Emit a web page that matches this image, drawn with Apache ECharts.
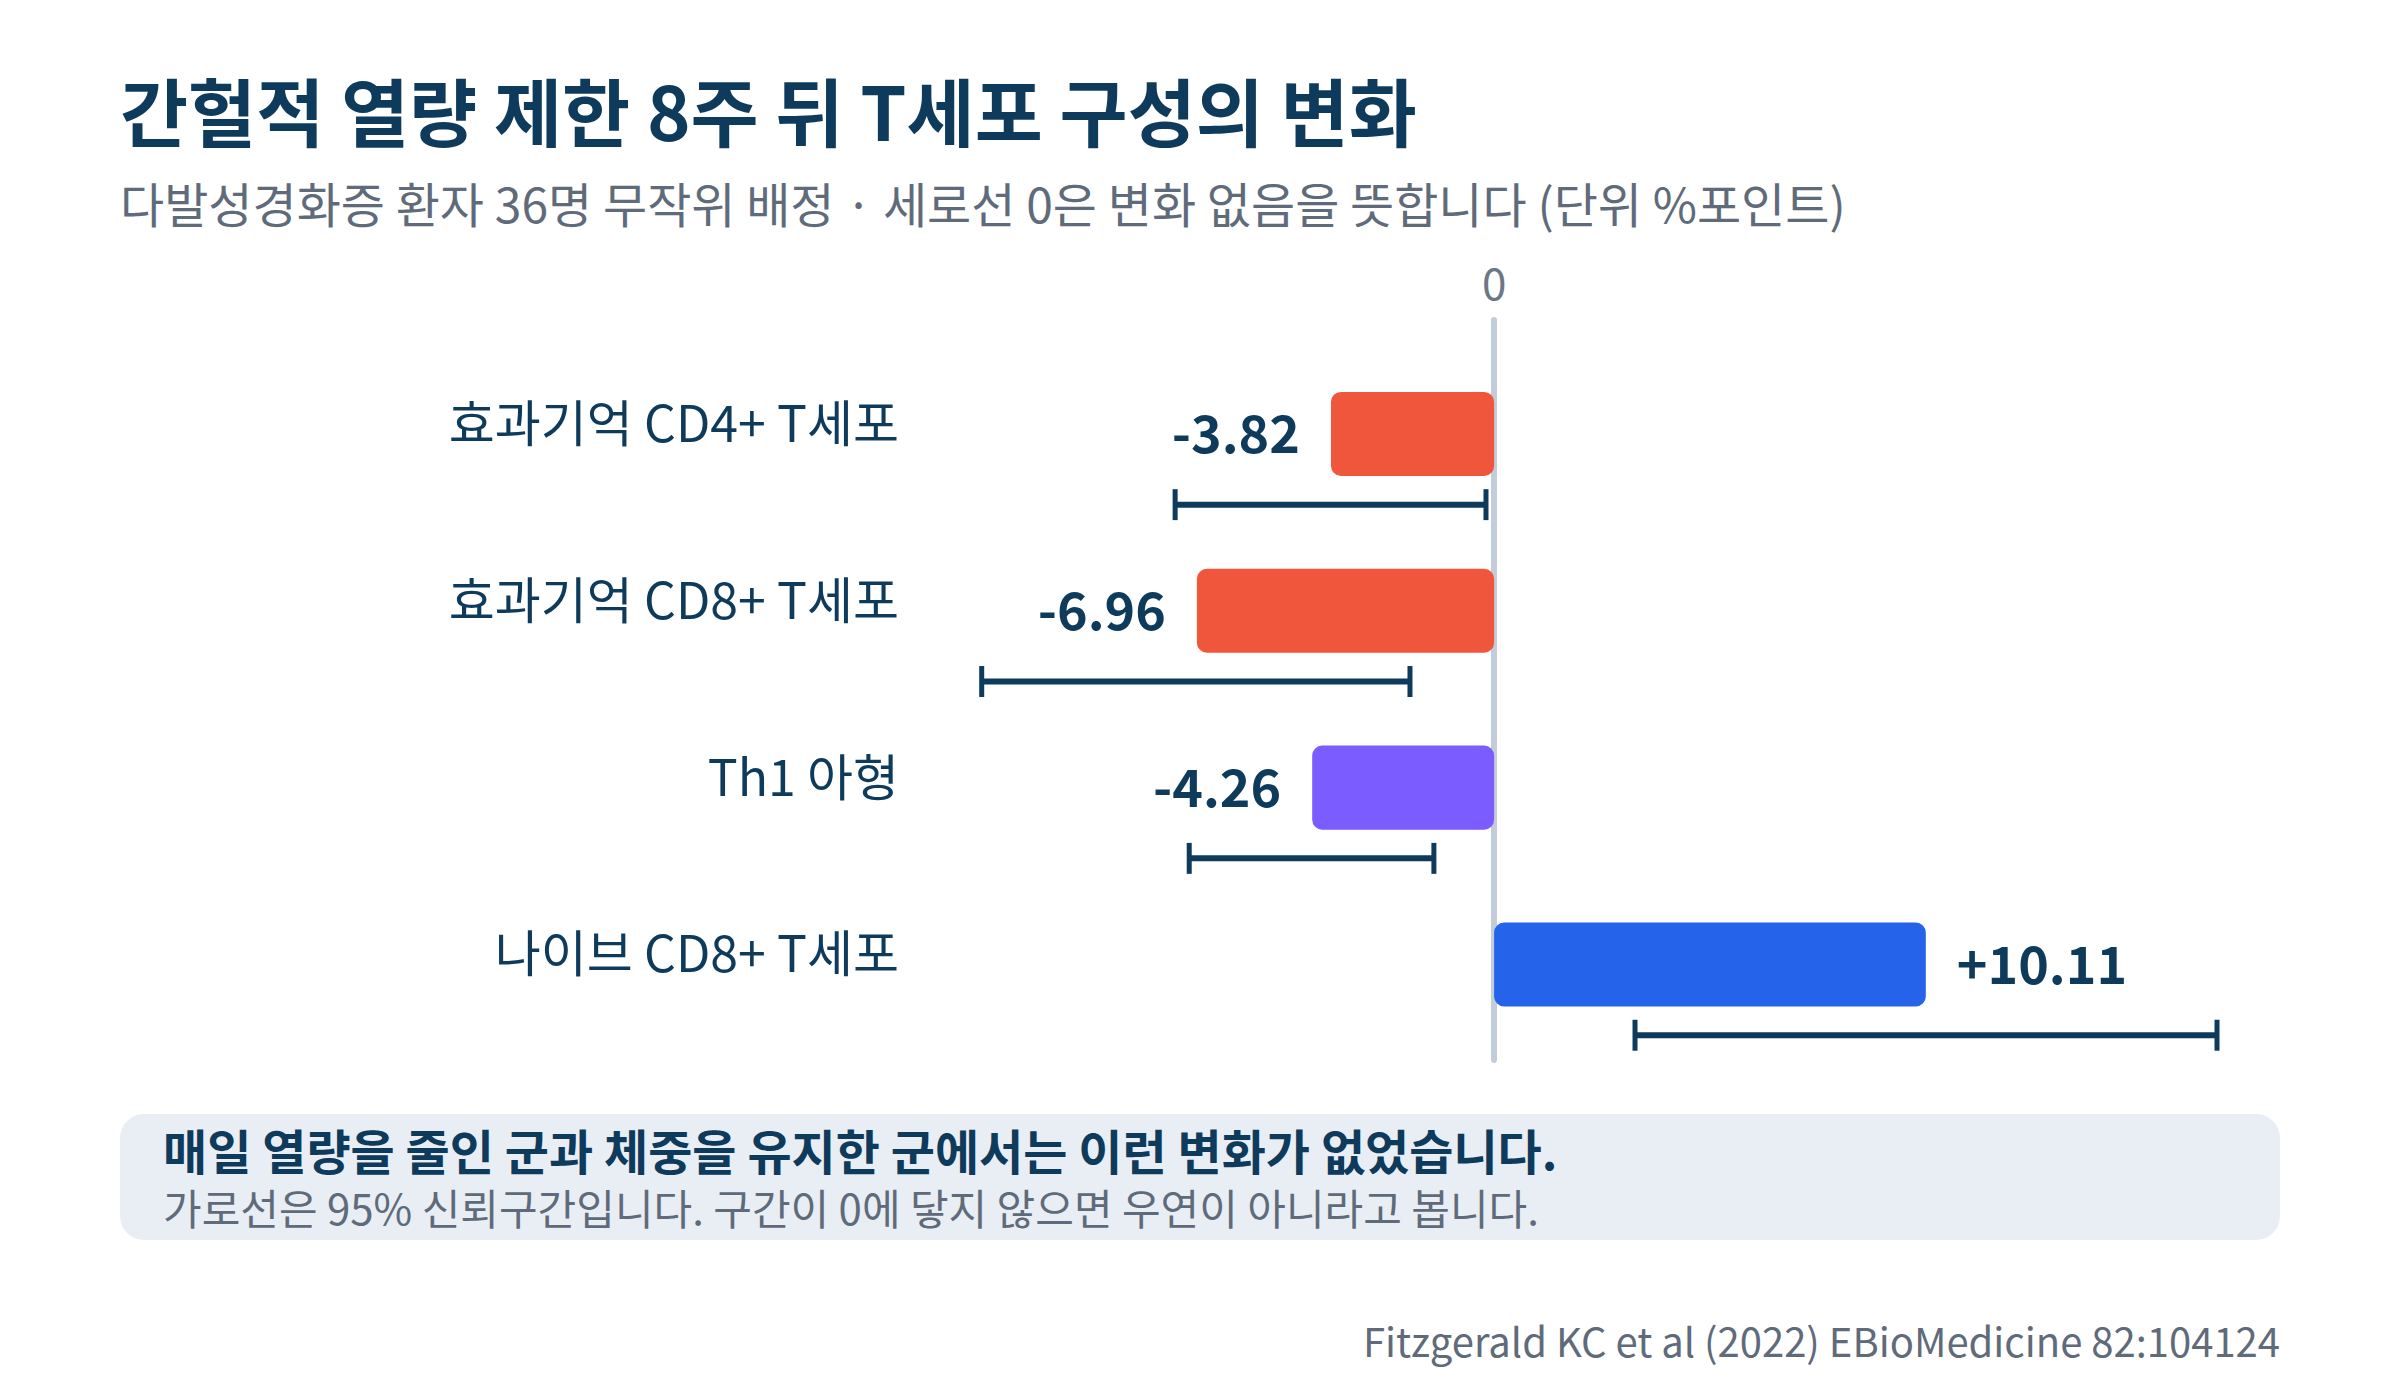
<!DOCTYPE html>
<html>
<head>
<meta charset="utf-8">
<script src="https://cdn.jsdelivr.net/npm/echarts@6/dist/echarts.min.js"></script>
<style>
html,body{margin:0;padding:0;background:#ffffff;}
#chart{width:2400px;height:1400px;}
</style>
</head>
<body>
<div id="chart"></div>
<script>
// ---- data ----
const categories = ['효과기억 CD4+ T세포', '효과기억 CD8+ T세포', 'Th1 아형', '나이브 CD8+ T세포'];
const values = [-3.82, -6.96, -4.26, 10.11];
const ciLow = [-7.47, -12.00, -7.14, 3.30];
const ciHigh = [-0.19, -1.97, -1.41, 16.93];
const barColors = ['#EF563C', '#EF563C', '#7B5CFF', '#2563EB'];
const titleText = '간헐적 열량 제한 8주 뒤 T세포 구성의 변화';
const subtitleText = '다발성경화증 환자 36명 무작위 배정 · 세로선 0은 변화 없음을 뜻합니다 (단위 %포인트)';
const noteBold = '매일 열량을 줄인 군과 체중을 유지한 군에서는 이런 변화가 없었습니다.';
const noteText = '가로선은 95% 신뢰구간입니다. 구간이 0에 닿지 않으면 우연이 아니라고 봅니다.';
const sourceText = 'Fitzgerald KC et al (2022) EBioMedicine 82:104124';

const FONT = '"Noto Sans CJK KR", "Noto Sans", sans-serif';
const NAVY = '#0E3A5C';
const GRAY = '#5F6B7A';

const X_MIN = -13, X_MAX = 18;
const BAR_H = 0.475;   // in category units
const ERR_OFF = 0.40;  // error bar offset below bar centre
const CAP_H = 0.175;

const seriesData = categories.map((c, i) => [i, values[i], ciLow[i], ciHigh[i]]);

function fmt(v) { return (v > 0 ? '+' : '') + v.toFixed(2); }

const chart = echarts.init(document.getElementById('chart'), null, { renderer: 'svg', width: 2400, height: 1400 });

chart.setOption({
  backgroundColor: '#ffffff',
  animation: false,
  textStyle: { fontFamily: FONT },
  grid: { left: 939, top: 320, width: 1323.7, height: 740, containLabel: false },
  xAxis: {
    type: 'value', position: 'top', min: X_MIN, max: X_MAX, interval: 1,
    axisLine: { show: false }, axisTick: { show: false }, splitLine: { show: false },
    axisLabel: {
      show: true, margin: 17, fontSize: 44, color: '#6B7785', fontFamily: FONT,
      formatter: v => (v === 0 ? '0' : '')
    }
  },
  yAxis: {
    type: 'value', inverse: true, min: -0.644, max: 3.54,
    axisLine: { show: true, onZero: true, lineStyle: { color: '#C3CDD9', width: 6 } },
    axisTick: { show: false }, axisLabel: { show: false }, splitLine: { show: false }
  },
  series: [{
    type: 'custom',
    data: seriesData,
    encode: { x: [1, 2, 3], y: 0 },
    clip: false,
    renderItem: function (params, api) {
      const i = api.value(0);
      const v = api.value(1);
      const lo = api.value(2);
      const hi = api.value(3);
      const p0 = api.coord([0, i]);
      const pv = api.coord([v, i]);
      const h = api.size([0, BAR_H])[1];
      const x = Math.min(p0[0], pv[0]);
      const w = Math.abs(pv[0] - p0[0]);
      const eL = api.coord([lo, i + ERR_OFF]);
      const eH = api.coord([hi, i + ERR_OFF]);
      const capH = api.size([0, CAP_H])[1];
      const labelPos = api.coord([X_MIN, i]);
      const children = [
        { type: 'rect', shape: { x: x, y: p0[1] - h / 2, width: w, height: h, r: 10 },
          style: { fill: barColors[i] } },
        { type: 'text', x: v < 0 ? pv[0] - 31 : pv[0] + 31, y: pv[1] - 3,
          style: { text: fmt(v), fill: NAVY, font: 'bold 52px ' + FONT,
                   align: v < 0 ? 'right' : 'left', verticalAlign: 'middle' } },
        { type: 'line', shape: { x1: eL[0], y1: eL[1], x2: eH[0], y2: eH[1] },
          style: { stroke: NAVY, lineWidth: 6 } },
        { type: 'line', shape: { x1: eL[0], y1: eL[1] - capH / 2, x2: eL[0], y2: eL[1] + capH / 2 },
          style: { stroke: NAVY, lineWidth: 5 } },
        { type: 'line', shape: { x1: eH[0], y1: eH[1] - capH / 2, x2: eH[0], y2: eH[1] + capH / 2 },
          style: { stroke: NAVY, lineWidth: 5 } },
        { type: 'text', x: labelPos[0] - 40, y: labelPos[1] - 14,
          style: { text: categories[i], fill: NAVY, font: '50px ' + FONT,
                   align: 'right', verticalAlign: 'middle' } }
      ];
      return { type: 'group', children: children };
    }
  }],
  graphic: [
    { type: 'text', x: 120, y: 108, z: 10,
      style: { text: titleText, fill: NAVY, font: 'bold 74px ' + FONT, verticalAlign: 'middle' } },
    { type: 'text', x: 120, y: 202, z: 10,
      style: { text: subtitleText, fill: GRAY, font: '48px ' + FONT, verticalAlign: 'middle' } },
    { type: 'rect', x: 120, y: 1114, z: 1,
      shape: { width: 2160, height: 126, r: 24 }, style: { fill: '#E9EEF5' } },
    { type: 'text', x: 163, y: 1149, z: 10,
      style: { text: noteBold, fill: NAVY, font: 'bold 48px ' + FONT, lineHeight: 46, verticalAlign: 'middle' } },
    { type: 'text', x: 163, y: 1206, z: 10,
      style: { text: noteText, fill: GRAY, font: '42px ' + FONT, lineHeight: 42, verticalAlign: 'middle' } },
    { type: 'text', x: 2280, y: 1340, z: 10,
      style: { text: sourceText, fill: GRAY, font: '40px ' + FONT, align: 'right', verticalAlign: 'middle' } }
  ]
});
</script>
</body>
</html>
